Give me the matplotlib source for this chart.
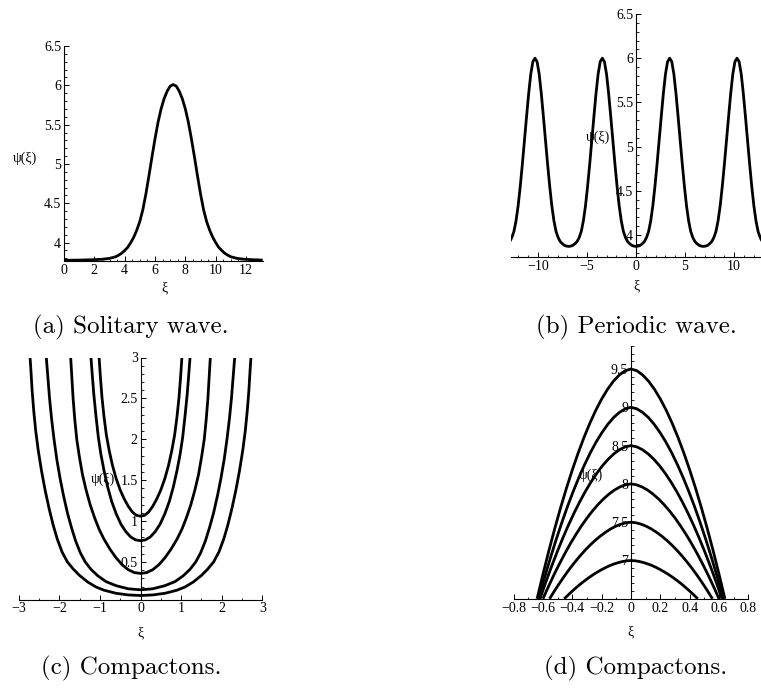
import numpy as np
import matplotlib
matplotlib.use('Agg')
import matplotlib.pyplot as plt
from matplotlib.ticker import FixedLocator, MultipleLocator, FuncFormatter

W, H = 761, 688

# (a) solitary wave
xi_a = [0, 1.0, 2.0, 2.6, 3.0, 3.4, 3.6, 3.8, 4.0, 4.2, 4.4, 4.6, 4.8, 5.0, 5.2, 5.4,
        5.6, 5.8, 6.0, 6.2, 6.4, 6.6, 6.8, 7.0, 7.2, 7.4, 7.6, 7.8, 8.0, 8.2, 8.4, 8.6,
        8.8, 9.0, 9.2, 9.4, 9.6, 9.8, 10.0, 10.2, 10.4, 10.6, 10.8, 11.0, 11.4, 11.8,
        12.4, 13.1]
psi_a = [3.775, 3.778, 3.783, 3.79, 3.80, 3.82, 3.84, 3.865, 3.90, 3.94, 4.00, 4.07,
         4.16, 4.27, 4.42, 4.62, 4.85, 5.09, 5.32, 5.53, 5.70, 5.83, 5.925, 5.99, 6.01,
         5.99, 5.925, 5.83, 5.70, 5.53, 5.32, 5.09, 4.85, 4.62, 4.42, 4.27, 4.16, 4.07,
         4.00, 3.94, 3.90, 3.865, 3.84, 3.82, 3.80, 3.79, 3.783, 3.778]

# (b) periodic wave, sampled every period/32
xi_b = np.linspace(-12.88, 12.88, 121)
psi_b = [3.925, 3.97, 4.04, 4.16, 4.33, 4.55, 4.8, 5.07, 5.34, 5.6, 5.82, 5.96,
         6.00,
         5.96, 5.82, 5.6, 5.34, 5.07, 4.8, 4.55, 4.33, 4.16, 4.04, 3.97, 3.925, 3.9, 3.882, 3.873, 3.87,
         3.873, 3.882, 3.9, 3.925, 3.97, 4.04, 4.16, 4.33, 4.55, 4.8, 5.07, 5.34, 5.6, 5.82, 5.96, 6.00,
         5.96, 5.82, 5.6, 5.34, 5.07, 4.8, 4.55, 4.33, 4.16, 4.04, 3.97, 3.925, 3.9, 3.882, 3.873, 3.87,
         3.873, 3.882, 3.9, 3.925, 3.97, 4.04, 4.16, 4.33, 4.55, 4.8, 5.07, 5.34, 5.6, 5.82, 5.96, 6.00,
         5.96, 5.82, 5.6, 5.34, 5.07, 4.8, 4.55, 4.33, 4.16, 4.04, 3.97, 3.925, 3.9, 3.882, 3.873, 3.87,
         3.873, 3.882, 3.9, 3.925, 3.97, 4.04, 4.16, 4.33, 4.55, 4.8, 5.07, 5.34, 5.6, 5.82, 5.96, 6.00,
         5.96, 5.82, 5.6, 5.34, 5.07, 4.8, 4.55, 4.33, 4.16, 4.04, 3.97, 3.925]

# (c) compactons, right half of each symmetric curve (half width, psi)
c_half = [
    [0, 0.3, 0.6, 0.9, 1.1, 1.3, 1.5, 1.65, 1.8, 1.93, 2.05, 2.15, 2.25, 2.35, 2.44,
     2.52, 2.58, 2.63, 2.67, 2.70, 2.72, 2.74],
    [0, 0.3, 0.6, 0.85, 1.05, 1.22, 1.36, 1.48, 1.6, 1.7, 1.8, 1.9, 1.98, 2.06, 2.13,
     2.19, 2.24, 2.28, 2.32, 2.34],
    [0, 0.15, 0.3, 0.45, 0.6, 0.75, 0.9, 1.02, 1.13, 1.24, 1.34, 1.43, 1.51, 1.57, 1.62,
     1.66, 1.69, 1.72, 1.74],
    [0, 0.12, 0.24, 0.36, 0.48, 0.6, 0.71, 0.81, 0.9, 0.98, 1.04, 1.1, 1.15, 1.19, 1.22, 1.24],
    [0, 0.1, 0.2, 0.3, 0.4, 0.5, 0.6, 0.69, 0.77, 0.84, 0.9, 0.95, 0.99, 1.02, 1.04],
]
c_psi = [
    [0.09, 0.097, 0.117, 0.155, 0.195, 0.255, 0.335, 0.41, 0.5, 0.62, 0.78, 0.95, 1.15,
     1.38, 1.62, 1.87, 2.1, 2.35, 2.6, 2.85, 3.0, 3.15],
    [0.16, 0.172, 0.21, 0.26, 0.33, 0.41, 0.5, 0.61, 0.76, 0.92, 1.1, 1.32, 1.52, 1.75,
     2.0, 2.25, 2.5, 2.75, 3.0, 3.15],
    [0.36, 0.37, 0.405, 0.465, 0.55, 0.655, 0.78, 0.9, 1.04, 1.2, 1.38, 1.57, 1.8, 2.0,
     2.25, 2.5, 2.75, 3.0, 3.15],
    [0.76, 0.77, 0.805, 0.87, 0.96, 1.09, 1.24, 1.42, 1.62, 1.83, 2.03, 2.3, 2.55, 2.8, 3.0, 3.15],
    [1.06, 1.07, 1.11, 1.18, 1.27, 1.38, 1.52, 1.68, 1.86, 2.05, 2.28, 2.52, 2.78, 3.0, 3.15],
]

# (d) compactons: half width where each arch meets the axis, and psi at 16 equal steps
d_end = [0.64, 0.63, 0.62, 0.60, 0.555, 0.455]
d_psi = [
    [9.5, 9.477, 9.421, 9.34, 9.235, 9.108, 8.961, 8.794, 8.608, 8.404, 8.182, 7.943,
     7.687, 7.414, 7.125, 6.82, 6.5],
    [9.0, 8.98, 8.934, 8.867, 8.779, 8.673, 8.551, 8.412, 8.257, 8.087, 7.902, 7.703,
     7.489, 7.262, 7.021, 6.767, 6.5],
    [8.5, 8.484, 8.447, 8.393, 8.323, 8.239, 8.14, 8.029, 7.905, 7.769, 7.621, 7.462,
     7.291, 7.109, 6.917, 6.714, 6.5],
    [8.0, 7.988, 7.961, 7.92, 7.867, 7.804, 7.73, 7.647, 7.554, 7.452, 7.341, 7.222,
     7.093, 6.957, 6.813, 6.66, 6.5],
    [7.5, 7.492, 7.474, 7.447, 7.412, 7.369, 7.32, 7.265, 7.203, 7.135, 7.061, 6.981,
     6.896, 6.805, 6.708, 6.607, 6.5],
    [7.0, 6.996, 6.987, 6.973, 6.956, 6.935, 6.91, 6.882, 6.851, 6.817, 6.78, 6.74,
     6.698, 6.652, 6.604, 6.553, 6.5],
]

xt_a = [0, 2, 4, 6, 8, 10, 12]
yt_a = [4, 4.5, 5, 5.5, 6, 6.5]
xt_b = [-10, -5, 0, 5, 10]
yt_b = [4, 4.5, 5, 5.5, 6, 6.5]
xt_c = [-3, -2, -1, 0, 1, 2, 3]
yt_c = [0.5, 1, 1.5, 2, 2.5, 3]
xt_d = [-0.8, -0.6, -0.4, -0.2, 0, 0.2, 0.4, 0.6, 0.8]
yt_d = [7, 7.5, 8, 8.5, 9, 9.5]

captions = ['(a) Solitary wave.', '(b) Periodic wave.', '(c) Compactons.', '(d) Compactons.']

SERIF = ['Liberation Serif', 'DejaVu Serif']
fmt = FuncFormatter(lambda v, _: f'{v:g}'.replace('-', '\u2212'))


def px_axes(fig, x0, x1, y_top, y_bot):
    return fig.add_axes([x0 / W, 1 - y_bot / H, (x1 - x0) / W, (y_bot - y_top) / H])


def maple_axes(ax, xlim, ylim, xt, yt, xminor, yminor):
    ax.set_xlim(*xlim)
    ax.set_ylim(*ylim)
    ax.patch.set_alpha(0)
    for s in ['top', 'right']:
        ax.spines[s].set_visible(False)
    ax.spines['left'].set_position(('data', 0))
    ax.spines['bottom'].set_position(('data', ylim[0]))
    for s in ['left', 'bottom']:
        ax.spines[s].set_linewidth(0.8)
    ax.xaxis.set_major_locator(FixedLocator(xt))
    ax.yaxis.set_major_locator(FixedLocator(yt))
    ax.xaxis.set_minor_locator(MultipleLocator(xminor))
    ax.yaxis.set_minor_locator(MultipleLocator(yminor))
    ax.xaxis.set_major_formatter(fmt)
    ax.yaxis.set_major_formatter(fmt)
    ax.tick_params(which='major', direction='in', length=3.5, width=0.7,
                   labelsize=10, pad=2)
    ax.tick_params(which='minor', direction='in', length=1.8, width=0.6)
    for lab in ax.get_xticklabels() + ax.get_yticklabels():
        lab.set_family(SERIF)


def mirror(w, p):
    w = np.asarray(w, dtype=float)
    p = np.asarray(p, dtype=float)
    return np.concatenate([-w[::-1], w[1:]]), np.concatenate([p[::-1], p[1:]])


LINE = dict(color='black', lw=2.0, solid_joinstyle='round', solid_capstyle='butt')

fig = plt.figure(figsize=(W / 100, H / 100), dpi=100)

# (a)
ax = px_axes(fig, 64, 262.7, 46, 261.5)
maple_axes(ax, (0, 13.1), (3.76, 6.5), xt_a, yt_a, 0.5, 0.1)
ax.plot(xi_a, psi_a, **LINE)

# (b)
ax = px_axes(fig, 511, 761, 14, 257)
maple_axes(ax, (-12.75, 12.75), (3.75, 6.5), xt_b, yt_b, 1, 0.1)
ax.plot(xi_b, psi_b, **LINE)

# (c)
ax = px_axes(fig, 18.7, 262.3, 357.5, 599.6)
maple_axes(ax, (-3, 3), (0.04, 3.0), xt_c, yt_c, 0.5, 0.1)
for w, p in zip(c_half, c_psi):
    ax.plot(*mirror(w, p), **LINE)

# (d)
ax = px_axes(fig, 513.6, 748.4, 346, 598.8)
maple_axes(ax, (-0.8, 0.8), (6.5, 9.8), xt_d, yt_d, 0.1, 0.1)
for we, p in zip(d_end, d_psi):
    ax.plot(*mirror(np.linspace(0, we, len(p)), p), **LINE)

# axis labels (Maple style)
ylab_pos = [(25, 158), (598, 137), (103, 479), (591, 475)]
xlab_pos = [(164, 288), (636, 286), (140, 633), (631, 632)]
for (x, y) in ylab_pos:
    fig.text(x / W, 1 - y / H, '\u03c8(\u03be)', family=SERIF, fontsize=10,
             ha='center', va='center')
for (x, y) in xlab_pos:
    fig.text(x / W, 1 - y / H, '\u03be', family=SERIF, fontsize=10,
             ha='center', va='center')

# captions
cap_pos = [(131, 327), (636, 327), (131, 668), (636, 668)]
for (x, y), txt in zip(cap_pos, captions):
    fig.text(x / W, 1 - y / H, txt, family=['cmr10', 'DejaVu Serif'], fontsize=18,
             ha='center', va='center')

fig.savefig('out.png', dpi=100)
